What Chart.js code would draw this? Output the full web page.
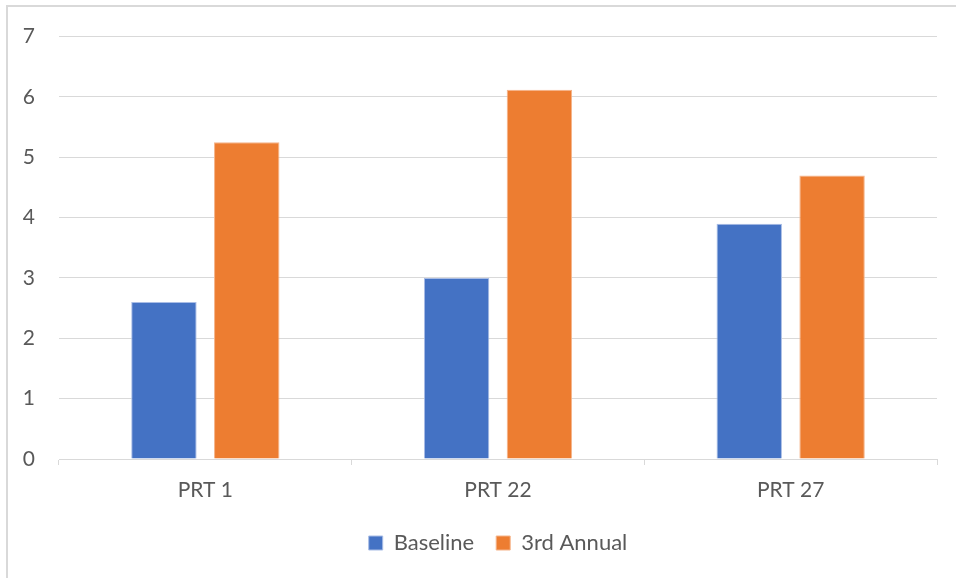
<!DOCTYPE html>
<html>
<head>
<meta charset="utf-8">
<script src="https://cdn.jsdelivr.net/npm/chart.js@4"></script>
<style>
  html, body { margin: 0; padding: 0; background: #fff; }
  #wrap { width: 956px; height: 578px; }
</style>
</head>
<body>
<div id="wrap"><canvas id="barChart" width="956" height="578"></canvas></div>
<script>
const categories = ['PRT 1', 'PRT 22', 'PRT 27'];
const baseline = [2.6, 3.0, 3.9];
const thirdAnnual = [5.25, 6.12, 4.7];
const yTicks = [0, 1, 2, 3, 4, 5, 6, 7];

// light frame on the left and top edge, like the exported chart box
const framePlugin = {
    id: 'frame',
    beforeDraw(chart) {
        const ctx = chart.ctx;
        ctx.save();
        ctx.strokeStyle = '#d9d9d9';
        ctx.lineWidth = 2;
        ctx.beginPath();
        ctx.moveTo(7, 578);
        ctx.lineTo(7, 6);
        ctx.lineTo(956, 6);
        ctx.stroke();
        ctx.restore();
    }
};

var ctx = document.getElementById('barChart').getContext('2d');
var barChart = new Chart(ctx, {
    type: 'bar',
    data: {
        labels: categories,
        datasets: [{
            label: 'Baseline',
            data: baseline,
            backgroundColor: '#4472c4',
            borderColor: '#a9bde6',
            borderWidth: 1
        }, {
            label: '3rd Annual',
            data: thirdAnnual,
            backgroundColor: '#ed7d31',
            borderColor: '#f5b48a',
            borderWidth: 1
        }]
    },
    options: {
        responsive: false,
        animation: false,
        categoryPercentage: 0.566,
        barPercentage: 0.79,
        layout: {
            padding: { top: 35, right: 19, left: 0, bottom: 14 }
        },
        plugins: {
            legend: {
                position: 'bottom',
                fullSize: false,
                labels: {
                    color: '#595959',
                    font: { family: 'Lato', size: 22 },
                    boxWidth: 14,
                    boxHeight: 14,
                    padding: 22
                }
            },
            tooltip: { enabled: false }
        },
        scales: {
            x: {
                grid: {
                    offset: true,
                    drawOnChartArea: false,
                    drawTicks: true,
                    tickLength: 6,
                    color: '#d9d9d9'
                },
                border: { color: '#d9d9d9' },
                ticks: {
                    color: '#595959',
                    font: { family: 'Lato', size: 21 },
                    padding: 13
                },
                afterFit(scale) { scale.height = 51; }
            },
            y: {
                min: 0,
                max: 7,
                afterBuildTicks(scale) {
                    scale.ticks = yTicks.map(v => ({ value: v }));
                },
                grid: {
                    color: '#d9d9d9',
                    drawTicks: false,
                    tickLength: 0
                },
                border: { display: false },
                ticks: {
                    color: '#595959',
                    font: { family: 'Lato', size: 21 },
                    padding: 24
                },
                afterFit(scale) { scale.width = 59; }
            }
        }
    },
    plugins: [framePlugin]
});
</script>
</body>
</html>
